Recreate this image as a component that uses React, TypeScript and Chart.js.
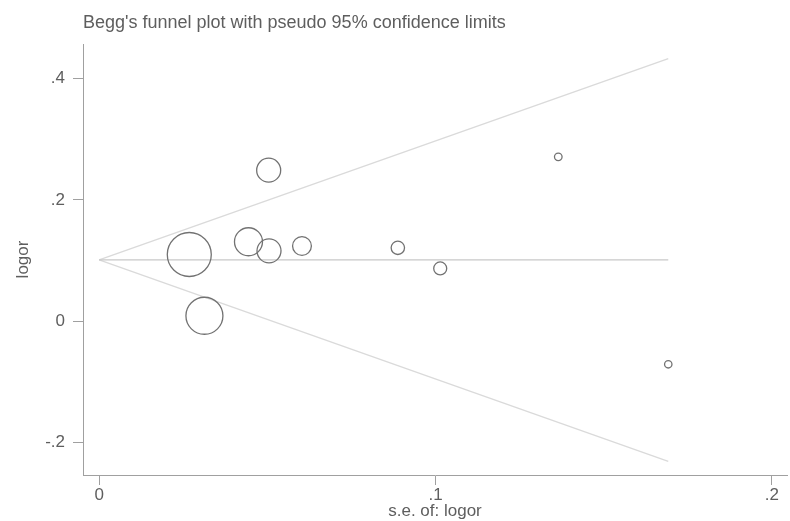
import React, { useEffect, useRef } from "react";
import { Chart, registerables } from "chart.js";

Chart.register(...registerables);

const chartTitle = "Begg's funnel plot with pseudo 95% confidence limits";
const xAxisTitle = "s.e. of: logor";
const yAxisTitle = "logor";

const seValues = [0.0268, 0.0313, 0.0444, 0.0504, 0.0505, 0.0603, 0.0888, 0.1014, 0.1365, 0.1692];
const logorValues = [0.110, 0.009, 0.131, 0.249, 0.116, 0.124, 0.121, 0.087, 0.271, -0.071];
const studyWeights = [22, 18.5, 14, 12, 12, 9.4, 6.7, 6.5, 3.8, 3.7];

const pooledLogor = 0.101;
const funnelSe = [0, 0.1692];
const upperLimit = [0.101, 0.433];
const lowerLimit = [0.101, -0.231];

const xTicks = [0, 0.1, 0.2];
const yTicks = [-0.2, 0, 0.2, 0.4];
const xRange = [-0.0048, 0.2045];
const yRange = [-0.2535, 0.457];

const FONT = '"Liberation Sans", Arial, Helvetica, sans-serif';
const TEXT = "#5e5e5e";
const AXIS = "#a0a0a0";

function fmt(v: number): string {
  if (v === 0) return "0";
  return String(Math.round(v * 1000) / 1000).replace(/^(-?)0\./, "$1.");
}

const titlePlugin = {
  id: "stataTitle",
  afterDraw(chart: any) {
    const ctx = chart.ctx;
    ctx.save();
    ctx.font = `18px ${FONT}`;
    ctx.fillStyle = TEXT;
    ctx.textBaseline = "alphabetic";
    ctx.textAlign = "left";
    ctx.fillText(chartTitle, 83, 27.5);
    ctx.restore();
  },
};

export default function App() {
  const ref = useRef<HTMLCanvasElement | null>(null);

  useEffect(() => {
    if (!ref.current) return;
    const chart = new Chart(ref.current, {
      type: "scatter",
      data: {
        datasets: [
          {
            label: "studies",
            data: seValues.map((x, i) => ({ x, y: logorValues[i] })),
            pointRadius: studyWeights,
            pointHoverRadius: studyWeights,
            pointStyle: "circle",
            backgroundColor: "rgba(0,0,0,0)",
            borderColor: "#727272",
            pointBorderWidth: 1.3,
            showLine: false,
          } as any,
          {
            label: "pooled",
            data: funnelSe.map((x) => ({ x, y: pooledLogor })),
            showLine: true,
            pointRadius: 0,
            borderColor: "#c8c8c8",
            borderWidth: 1.2,
          },
          {
            label: "upper",
            data: funnelSe.map((x, i) => ({ x, y: upperLimit[i] })),
            showLine: true,
            pointRadius: 0,
            borderColor: "#dadada",
            borderWidth: 1.3,
          },
          {
            label: "lower",
            data: funnelSe.map((x, i) => ({ x, y: lowerLimit[i] })),
            showLine: true,
            pointRadius: 0,
            borderColor: "#dadada",
            borderWidth: 1.3,
          },
        ],
      },
      options: {
        animation: false,
        responsive: false,
        devicePixelRatio: 1,
        layout: { autoPadding: false, padding: { top: 44, right: 3, left: 0, bottom: 0 } },
        plugins: {
          legend: { display: false },
          tooltip: { enabled: false },
          title: { display: false },
        },
        scales: {
          x: {
            type: "linear",
            min: xRange[0],
            max: xRange[1],
            afterBuildTicks: (s: any) => {
              s.ticks = xTicks.map((value) => ({ value }));
            },
            afterFit: (s: any) => {
              s.height = 46;
            },
            ticks: {
              callback: (v: any) => fmt(Number(v)),
              font: { family: FONT, size: 17 },
              color: TEXT,
              padding: 0,
              maxRotation: 0,
            },
            grid: {
              display: true,
              drawOnChartArea: false,
              drawTicks: true,
              tickLength: 10,
              color: AXIS,
            },
            border: { display: true, color: AXIS, width: 1 },
            title: {
              display: true,
              text: xAxisTitle,
              font: { family: FONT, size: 17 },
              color: TEXT,
              padding: { top: 0, bottom: -1 },
            },
          },
          y: {
            type: "linear",
            min: yRange[0],
            max: yRange[1],
            afterBuildTicks: (s: any) => {
              s.ticks = yTicks.map((value) => ({ value }));
            },
            afterFit: (s: any) => {
              s.width = 83;
            },
            ticks: {
              callback: (v: any) => fmt(Number(v)),
              font: { family: FONT, size: 17 },
              color: TEXT,
              padding: 8,
            },
            grid: {
              display: true,
              drawOnChartArea: false,
              drawTicks: true,
              tickLength: 10,
              color: AXIS,
            },
            border: { display: true, color: AXIS, width: 1 },
            title: {
              display: true,
              text: yAxisTitle,
              font: { family: FONT, size: 17 },
              color: TEXT,
              padding: { top: 13, bottom: 0 },
            },
          },
        },
      },
      plugins: [titlePlugin],
    });
    return () => chart.destroy();
  }, []);

  return (
    <div
      style={{
        position: "fixed",
        left: 0,
        top: 0,
        width: 790,
        height: 521,
        background: "#ffffff",
      }}
    >
      <canvas ref={ref} width={790} height={521} style={{ width: 790, height: 521, display: "block" }} />
    </div>
  );
}
